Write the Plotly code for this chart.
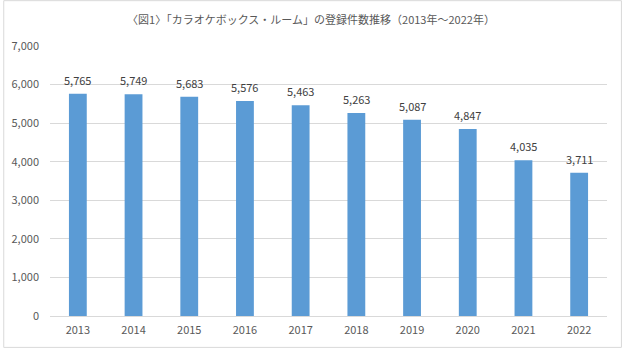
import plotly.graph_objects as go

years = ["2013", "2014", "2015", "2016", "2017", "2018", "2019", "2020", "2021", "2022"]
counts = [5765, 5749, 5683, 5576, 5463, 5263, 5087, 4847, 4035, 3711]
title_text = "〈図1〉「カラオケボックス・ルーム」の登録件数推移（2013年～2022年）"

W, H = 622, 349
ml, mr, mt, mb = 47, 15, 46, 32
pw, ph = W - ml - mr, H - mt - mb

font_family = "Noto Sans CJK JP, Noto Sans, sans-serif"
grey = "#595959"

fig = go.Figure(go.Bar(
    x=years, y=counts,
    marker=dict(color="#5B9BD5", line=dict(width=0)),
    hoverinfo="x+y",
))

# category axis: annotation x is the serial index of each category
annotations = [
    dict(x=i, y=v, xref="x", yref="y", text=f"{v:,}", showarrow=False,
         yanchor="bottom", xanchor="center", yshift=4,
         font=dict(size=11, color="#404040", family=font_family))
    for i, v in enumerate(counts)
]

fig.update_layout(
    width=W, height=H,
    margin=dict(l=ml, r=mr, t=mt, b=mb),
    paper_bgcolor="white", plot_bgcolor="white",
    bargap=0.68,
    showlegend=False,
    font=dict(family=font_family, size=11, color=grey),
    title=dict(text=title_text, x=0.5, xanchor="center", y=1 - 20 / H, yanchor="middle",
               font=dict(size=11, color=grey, family=font_family)),
    xaxis=dict(type="category", range=[-0.5, len(years) - 0.5], showgrid=False,
               showline=False, ticks="", tickfont=dict(size=11, color=grey),
               ticklabelstandoff=6),
    yaxis=dict(range=[0, 7000], dtick=1000, tickformat=",", showgrid=True,
               gridcolor="#D9D9D9", gridwidth=1, zeroline=True, zerolinecolor="#D9D9D9",
               zerolinewidth=1, showline=False, ticks="", tickfont=dict(size=11, color=grey),
               ticklabelstandoff=10),
    annotations=annotations,
    shapes=[dict(type="rect", xref="paper", yref="paper",
                 x0=-(ml - 0.5) / pw, x1=1 + (mr - 0.5) / pw,
                 y0=-(mb - 0.5) / ph, y1=1 + (mt - 0.5) / ph,
                 line=dict(color="#D9D9D9", width=1), fillcolor="rgba(0,0,0,0)", layer="below")],
)

fig.write_html("out.html")
